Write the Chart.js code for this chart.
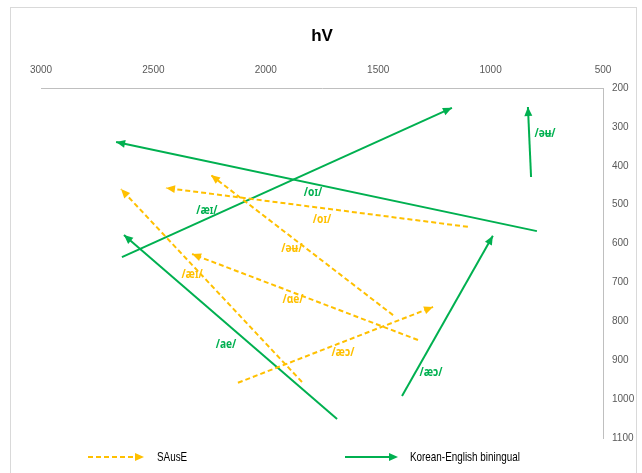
<!DOCTYPE html>
<html>
<head>
<meta charset="utf-8">
<style>
	html, body { margin: 0; padding: 0; background: #fff; }
	#wrap { width: 642px; height: 473px; }
</style>
<script src="https://cdn.jsdelivr.net/npm/chart.js@4.4.0/dist/chart.umd.min.js"></script>
</head>
<body>
<div id="wrap"><canvas id="chart" width="642" height="473"></canvas></div>
<script>
// each vowel: [start, end] in Hz, arrow at the end point
var seriesNames = ["SAusE", "Korean-English biningual"];

var sausVowels = ["/oɪ/", "/əʉ/", "/æɪ/", "/ɑe/", "/æɔ/"];
var sausF2 = [[1101, 2444], [1434, 2244], [1839, 2644], [1323, 2328], [2124, 1256]];
var sausF1 = [[557, 457], [784, 424], [956, 460], [848, 627], [958, 763]];
var sausLabelF2 = [1750, 1884, 2328, 1879, 1657];
var sausLabelF1 = [539, 614, 681, 745, 881];

var korVowels = ["/æɪ/", "/oɪ/", "/ae/", "/æɔ/", "/əʉ/"];
var korF2 = [[2640, 1172], [794, 2666], [1683, 2631], [1394, 990], [820, 834]];
var korF1 = [[635, 251], [568, 339], [1051, 578], [992, 580], [429, 249]];
var korLabelF2 = [2262, 1790, 2177, 1265, 758];
var korLabelF1 = [514, 470, 861, 933, 316];

var xTicks = [3000, 2500, 2000, 1500, 1000, 500];
var yTicks = [200, 300, 400, 500, 600, 700, 800, 900, 1000, 1100];

var YELLOW = "#FFC000";
var GREEN = "#00B050";
var SANS = "'Liberation Sans', Arial, sans-serif";

function makeSets(vowels, f2, f1, color, dashed){
	return vowels.map(function(v, i){
		return {
			label: v,
			data: [{x: f2[i][0], y: f1[i][0]}, {x: f2[i][1], y: f1[i][1]}],
			showLine: true,
			borderColor: color,
			backgroundColor: color,
			borderWidth: 2,
			borderDash: dashed ? [5, 3] : [],
			pointRadius: 0,
			pointHoverRadius: 0
		};
	});
}

var datasets = makeSets(sausVowels, sausF2, sausF1, YELLOW, true)
	.concat(makeSets(korVowels, korF2, korF1, GREEN, false));

function arrowHead(ctx, x0, y0, x1, y1, color){
	var a = Math.atan2(y1 - y0, x1 - x0);
	var len = 9, half = 4;
	ctx.save();
	ctx.translate(x1, y1);
	ctx.rotate(a);
	ctx.fillStyle = color;
	ctx.beginPath();
	ctx.moveTo(0, 0);
	ctx.lineTo(-len, -half);
	ctx.lineTo(-len, half);
	ctx.closePath();
	ctx.fill();
	ctx.restore();
}

// narrow text, the source used a condensed face
function narrowText(ctx, txt, x, y, sx){
	ctx.save();
	ctx.translate(x, y);
	ctx.scale(sx, 1);
	ctx.fillText(txt, 0, 0);
	ctx.restore();
}

var decorations = {
	id: "decorations",
	beforeDraw: function(chart){
		var ctx = chart.ctx;
		ctx.save();
		ctx.strokeStyle = "#d9d9d9";
		ctx.lineWidth = 1;
		ctx.strokeRect(10.5, 7.5, 626, 480);
		ctx.restore();
	},
	afterDatasetsDraw: function(chart){
		var ctx = chart.ctx;
		var xs = chart.scales.x, ys = chart.scales.y;
		chart.data.datasets.forEach(function(ds, i){
			var pts = chart.getDatasetMeta(i).data;
			arrowHead(ctx, pts[0].x, pts[0].y, pts[1].x, pts[1].y, ds.borderColor);
		});
		ctx.save();
		ctx.font = "bold 12px 'Noto Sans', sans-serif";
		ctx.textAlign = "center";
		ctx.textBaseline = "middle";
		ctx.fillStyle = YELLOW;
		sausVowels.forEach(function(v, i){
			narrowText(ctx, v, xs.getPixelForValue(sausLabelF2[i]), ys.getPixelForValue(sausLabelF1[i]), 0.85);
		});
		ctx.fillStyle = GREEN;
		korVowels.forEach(function(v, i){
			narrowText(ctx, v, xs.getPixelForValue(korLabelF2[i]), ys.getPixelForValue(korLabelF1[i]), 0.85);
		});
		ctx.restore();
	},
	afterDraw: function(chart){
		// legend
		var ctx = chart.ctx;
		var y = 457;
		ctx.save();
		ctx.lineWidth = 2;
		ctx.strokeStyle = YELLOW;
		ctx.setLineDash([5, 3]);
		ctx.beginPath(); ctx.moveTo(88, y); ctx.lineTo(140, y); ctx.stroke();
		arrowHead(ctx, 88, y, 144, y, YELLOW);
		ctx.setLineDash([]);
		ctx.strokeStyle = GREEN;
		ctx.beginPath(); ctx.moveTo(345, y); ctx.lineTo(394, y); ctx.stroke();
		arrowHead(ctx, 345, y, 398, y, GREEN);
		ctx.fillStyle = "#000";
		ctx.font = "13px " + SANS;
		ctx.textBaseline = "middle";
		narrowText(ctx, seriesNames[0], 157, y, 0.76);
		narrowText(ctx, seriesNames[1], 410, y, 0.76);
		ctx.restore();
	}
};

function plain(v){ return String(v); }

new Chart(document.getElementById("chart"), {
	type: "scatter",
	data: { datasets: datasets },
	plugins: [decorations],
	options: {
		responsive: false,
		animation: false,
		layout: { padding: { left: 41, right: 0, top: 0, bottom: 35 } },
		plugins: {
			legend: { display: false },
			tooltip: { enabled: false },
			title: {
				display: true,
				text: "hV",
				fullSize: false,
				color: "#000",
				font: { family: SANS, size: 17, weight: "bold" },
				padding: { top: 26, bottom: 13.6 }
			}
		},
		scales: {
			x: {
				type: "linear",
				position: "top",
				reverse: true,
				min: 500,
				max: 3000,
				afterBuildTicks: function(s){ s.ticks = xTicks.map(function(v){ return {value: v}; }); },
				afterFit: function(s){ s.height = 28; },
				grid: { display: false, drawTicks: false },
				border: { display: true, color: "#bfbfbf", width: 1 },
				ticks: { color: "#595959", padding: 12, maxRotation: 0, callback: plain, font: { family: SANS, size: 10 } }
			},
			y: {
				type: "linear",
				position: "right",
				reverse: true,
				min: 200,
				max: 1100,
				afterBuildTicks: function(s){ s.ticks = yTicks.map(function(v){ return {value: v}; }); },
				afterFit: function(s){ s.width = 39; },
				grid: { display: false, drawTicks: false },
				border: { display: true, color: "#bfbfbf", width: 1 },
				ticks: { color: "#595959", padding: 9, callback: plain, font: { family: SANS, size: 10 } }
			}
		}
	}
});
</script>
</body>
</html>
